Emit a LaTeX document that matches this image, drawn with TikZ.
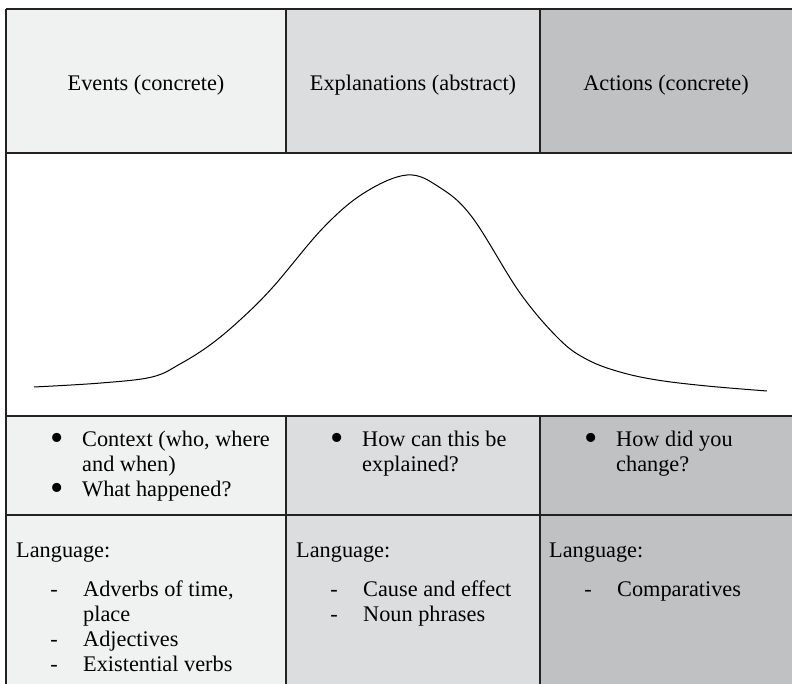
\documentclass[tikz,border=0pt]{standalone}
\usepackage{fontspec}
\setmainfont{Liberation Serif}
\usetikzlibrary{positioning}
\definecolor{cellA}{HTML}{F0F1F1}
\definecolor{cellB}{HTML}{DCDDDF}
\definecolor{cellC}{HTML}{C0C1C3}
\definecolor{rule}{HTML}{222222}

\begin{document}
\begin{tikzpicture}[x=1pt, y=-1pt,
	every node/.style={font=\fontsize{22.3}{25}\selectfont, inner sep=0pt},
	txt/.style={anchor=base west},
	grid/.style={draw=rule, line width=1.8pt},
	curve/.style={line width=1pt}]

\useasboundingbox (0,0) rectangle (792,684);

% column and row edges, in pixels of the page
\def \xa{6}
\def \xb{286}
\def \xc{540}
\def \xd{792}
\def \ya{9}
\def \yb{153}
\def \yc{416}
\def \yd{515}
\def \ye{684}

% bullet and dash in a box, so the text after it starts at the same place
\newcommand{\bul}{\makebox[51pt][c]{\raisebox{-4.5pt}{\fontsize{38}{25}\selectfont\textbullet}}}
\newcommand{\dsh}{\makebox[58pt][c]{-}}

\foreach \l/\r/\c in {\xa/\xb/cellA, \xb/\xc/cellB, \xc/\xd/cellC} {
	\fill[\c] (\l, \ya) rectangle (\r, \yb); % top row
	\fill[\c] (\l, \yc) rectangle (\r, \ye); % two lower rows
}

\foreach \y in {\ya, \yb, \yc, \yd} {
	\draw[grid] (\xa, \y) -- (\xd, \y); % row rule
}
\draw[grid] (\xa, \ya) -- (\xa, \ye); % left rule
\foreach \x in {\xb, \xc} {
	\draw[grid] (\x, \ya-1) -- (\x, \yb); % column rule, top row
	\draw[grid] (\x, \yc) -- (\x, \ye);   % column rule, lower rows
}

% top row
\node (events)  at ({(\xa+\xb)/2}, 85) {Events (concrete)};
\node (explain) at ({(\xb+\xc)/2}, 85) {Explanations (abstract)};
\node (actions) at ({(\xc+\xd)/2}, 85) {Actions (concrete)};

% the curve
\draw[curve] plot[smooth, tension=0.6] coordinates {
	( 34, 387)
	(101, 383)
	(152, 377)
	(180, 364)
	(210, 345)
	(240, 320)
	(273, 287)
	(323, 228)
	(364, 193)
	(407, 175)
	(439, 187)
	(472, 217)
	(520, 293)
	(560, 340)
	(588, 360)
	(620, 372)
	(657, 380)
	(707, 386)
	(767, 391)};

% questions
\node[txt] (q events) at (\xa+25, 446) {\begin{tabular}[t]{@{}l@{}l@{}}
	\bul & Context (who, where\\
	     & and when)\\
	\bul & What happened?
\end{tabular}};
\node[txt] (q explain) at (\xb+25, 446) {\begin{tabular}[t]{@{}l@{}l@{}}
	\bul & How can this be\\
	     & explained?
\end{tabular}};
\node[txt] (q actions) at (\xc+25, 446) {\begin{tabular}[t]{@{}l@{}l@{}}
	\bul & How did you\\
	     & change?
\end{tabular}};

% language
\node[txt] (lang events)  at (\xa+10, 557) {Language:};
\node[txt] (lang explain) at (\xb+10, 557) {Language:};
\node[txt] (lang actions) at (\xc+9, 557)  {Language:};

\node[txt] (l events) at (\xa+19, 596) {\begin{tabular}[t]{@{}l@{}l@{}}
	\dsh & Adverbs of time,\\
	     & place\\
	\dsh & Adjectives\\
	\dsh & Existential verbs
\end{tabular}};
\node[txt] (l explain) at (\xb+19, 596) {\begin{tabular}[t]{@{}l@{}l@{}}
	\dsh & Cause and effect\\
	\dsh & Noun phrases
\end{tabular}};
\node[txt] (l actions) at (\xc+19, 596) {\begin{tabular}[t]{@{}l@{}l@{}}
	\dsh & Comparatives
\end{tabular}};

\end{tikzpicture}
\end{document}
